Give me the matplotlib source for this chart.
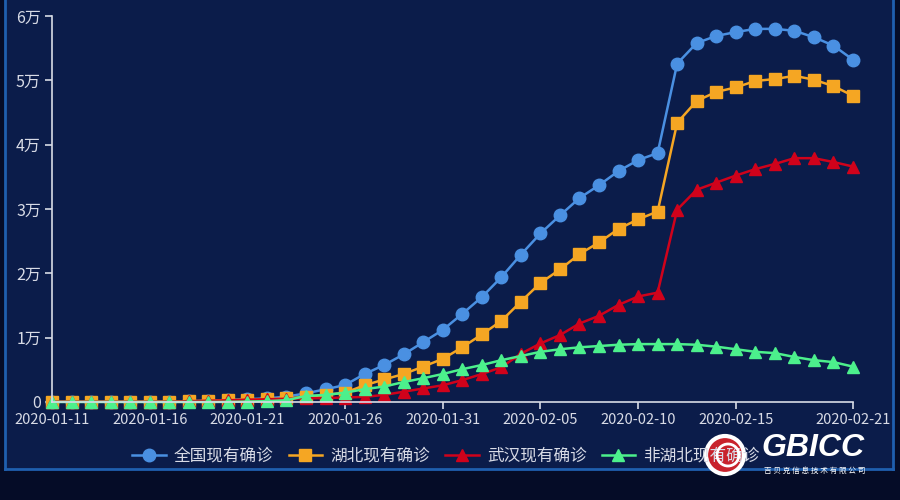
import numpy as np
import matplotlib
matplotlib.use("Agg")
import matplotlib.pyplot as plt
import matplotlib.patches as mpatches
import pandas as pd

plt.rcParams['font.family'] = ['Noto Sans CJK SC', 'DejaVu Sans']

# ---- data (cases) ----
dates = pd.date_range("2020-01-11", "2020-02-21", freq="D")
national = [41, 41, 41, 41, 41, 45, 62, 121, 198, 291, 440, 571, 830,
            1350, 1975, 2640, 4350, 5750, 7400, 9300, 11200, 13700, 16300,
            19400, 22900, 26200, 29000, 31700, 33700, 35900, 37600, 38700,
            52600, 55800, 56900, 57500, 58000, 58000, 57700, 56700, 55400, 53200]
hubei = [41, 41, 41, 41, 41, 45, 62, 121, 198, 270, 375, 444, 549,
         800, 1100, 1450, 2600, 3500, 4350, 5500, 6700, 8500, 10500,
         12600, 15600, 18500, 20600, 23000, 24800, 26900, 28400, 29600,
         43400, 46800, 48200, 48900, 49900, 50200, 50700, 50100, 49100, 47600]
wuhan = [41, 41, 41, 41, 41, 45, 62, 121, 198, 258, 363, 425, 495,
         572, 618, 698, 800, 1100, 1600, 2100, 2600, 3400, 4350,
         5400, 7500, 9100, 10400, 12200, 13400, 15100, 16400, 17000,
         29900, 33000, 34100, 35200, 36200, 37000, 37900, 37900, 37300, 36600]
non_hubei = [0, 0, 0, 0, 0, 0, 0, 0, 0, 21, 65, 127, 281,
             930, 1100, 1450, 2000, 2400, 3100, 3700, 4350, 5100, 5750,
             6500, 7150, 7800, 8200, 8500, 8700, 8900, 9000, 9000,
             9000, 8900, 8600, 8200, 7800, 7600, 7000, 6500, 6200, 5500]
names = ["全国现有确诊", "湖北现有确诊", "武汉现有确诊", "非湖北现有确诊"]
ytick_vals = [0, 10000, 20000, 30000, 40000, 50000, 60000]
ytick_labels = ["0", "1万", "2万", "3万", "4万", "5万", "6万"]
xtick_idx = [0, 5, 10, 15, 20, 25, 30, 35, 41]

BG = "#0b1c4a"
fig = plt.figure(figsize=(9, 5), dpi=100, facecolor=BG)

# dark strip below the panel frame + frame lines
fig.patches.append(mpatches.Rectangle((0, 0), 1, 1 - 470/500, transform=fig.transFigure,
                                      facecolor="#050c27", edgecolor="none", zorder=0))
fig.patches.append(mpatches.Rectangle((0, 0), 5/900, 1, transform=fig.transFigure,
                                      facecolor="#050c27", edgecolor="none", zorder=0))
fig.patches.append(mpatches.Rectangle((893/900, 0), 7/900, 1, transform=fig.transFigure,
                                      facecolor="#050c27", edgecolor="none", zorder=0))
fig.add_artist(plt.Line2D([5/900, 5/900], [1 - 469/500, 1], transform=fig.transFigure,
                          color="#1f5fae", lw=2))
fig.add_artist(plt.Line2D([893/900, 893/900], [1 - 469/500, 1], transform=fig.transFigure,
                          color="#1f5fae", lw=2))
fig.add_artist(plt.Line2D([5/900, 893/900], [1 - 469/500, 1 - 469/500], transform=fig.transFigure,
                          color="#1f5fae", lw=2))

# glowing cyan bars at the bottom
grad = np.zeros((1, 256, 4))
grad[..., 0], grad[..., 1], grad[..., 2] = 0.12, 0.70, 0.90
grad[..., 3] = np.linspace(1, 0, 256)
gax = fig.add_axes([0, 1 - 491/500, 140/900, 5/500]); gax.axis("off")
gax.imshow(grad, aspect="auto")
gax2 = fig.add_axes([750/900, 1 - 491/500, 150/900, 5/500]); gax2.axis("off")
gax2.imshow(grad[:, ::-1], aspect="auto")

ax = fig.add_axes([52/900, 1 - 402/500, (853 - 52)/900, (402 - 16)/500])
ax.set_facecolor("none")
x = np.arange(len(dates))
styles = [("#4a90e2", "o", 9), ("#f5a623", "s", 8.5), ("#d0021b", "^", 8.5), ("#4cf08c", "^", 8.5)]
for vals, name, (c, m, ms) in zip([national, hubei, wuhan, non_hubei], names, styles):
    ax.plot(x, vals, color=c, lw=1.8, marker=m, ms=ms, label=name, clip_on=False)

ax.set_xlim(0, len(dates) - 1)
ax.set_ylim(0, 60000)
ax.set_yticks(ytick_vals, ytick_labels)
ax.set_xticks(xtick_idx, [dates[i].strftime("%Y-%m-%d") for i in xtick_idx])
for s in ["top", "right"]:
    ax.spines[s].set_visible(False)
for s in ["left", "bottom"]:
    ax.spines[s].set_color("#d8dbe6"); ax.spines[s].set_linewidth(1.2)
ax.tick_params(colors="#d8dbe6", length=5, width=1.2, pad=3)
ax.tick_params(axis="y", labelsize=11.5)
ax.tick_params(axis="x", labelsize=10.5)

fig.legend(loc="center", bbox_to_anchor=(446/900, 1 - 456/500), ncol=4, frameon=False,
           fontsize=12, labelcolor="#d8dbe6", handlelength=2.0, columnspacing=0.9,
           handletextpad=0.5)

# watermark logo
lx, ly = 725/900, 1 - 455/500
fig.patches.append(mpatches.Ellipse((lx, ly), 38/900, 38/500, transform=fig.transFigure,
                                    facecolor="#c8232c", edgecolor="white", lw=3, zorder=5))
fig.patches.append(mpatches.Ellipse((lx + 3/900, ly), 22/900, 22/500, transform=fig.transFigure,
                                    facecolor="none", edgecolor="white", lw=2, zorder=6))
fig.text(813/900, 1 - 448/500, "GBICC", color="white", fontsize=23, fontweight="bold",
         fontstyle="italic", family=["Liberation Sans"], ha="center", va="center", zorder=7)
fig.text(815/900, 1 - 471/500, "吉 贝 克 信 息 技 术 有 限 公 司", color="white", fontsize=5.5,
         ha="center", va="center", zorder=7)

fig.savefig("out.png", dpi=100, facecolor=BG)
